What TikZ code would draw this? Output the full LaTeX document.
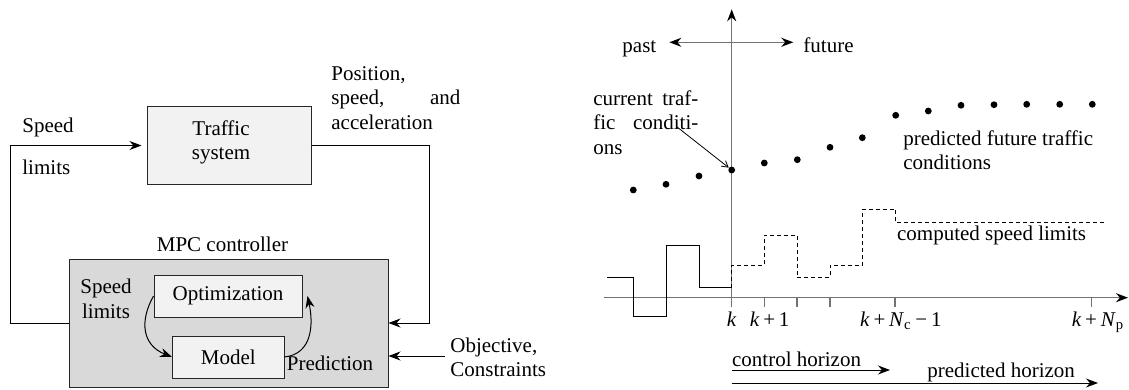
\documentclass[tikz,border=0pt]{standalone}
\usepackage{fontspec}
\setmainfont{Liberation Serif}
\usetikzlibrary{arrows.meta}
\newcommand\kplus{\hspace{0.18em}+\hspace{0.18em}}
\newcommand\kminus{\hspace{0.18em}−\hspace{0.18em}}
\begin{document}
\begin{tikzpicture}[x=0.5pt,y=-0.5pt,
  font=\fontsize{10.5}{12.25}\selectfont,
  arr/.style={-{Stealth[length=6pt,width=4.5pt]}, line width=0.5pt},
  axarr/.style={-{Stealth[length=6pt,width=4.5pt,color=black]}},
  blk/.style={draw=black!85, line width=0.5pt, inner sep=0pt},
  txt/.style={inner sep=0pt},
  axis/.style={draw=black!55, line width=0.75pt},
  dot/.style={circle, fill=black, inner sep=0pt, minimum size=3.4pt},
  past/.style={line width=0.5pt},
  fut/.style={line width=0.45pt, dash pattern=on 2pt off 1.5pt}
]
\useasboundingbox (0,0) rectangle (1129,390);

% ---------------- left: block diagram ----------------
\node[blk, fill=black!5, minimum width=82pt, minimum height=38.5pt] (traffic) at (229,145.5) {};
\node[txt, align=center] (traffictxt) at (221,142.5) {Traffic\\system};
\node[blk, fill=black!15, minimum width=159.5pt, minimum height=64pt] (mpc) at (228.5,323) {};
\node[txt] (mpclab) at (222.5,244) {MPC controller};
\node[blk, fill=black!5, minimum width=74pt, minimum height=21pt] (opt) at (228,296) {Optimization};
\node[blk, fill=black!5, minimum width=55.75pt, minimum height=21pt] (model) at (228.25,357) {Model};
\node[txt, align=center] (sl2) at (106,299) {Speed\\limits};
\node[txt] (pred) at (330,363) {Prediction};
\node[txt, anchor=west, align=left] (obj) at (450,357.5) {Objective,\\Constraints};
\node[txt, anchor=west] (sl1a) at (22,127) {Speed};
\node[txt, anchor=west] (sl1b) at (22,167) {limits};
\node[txt, anchor=west, text width=64.5pt, align=left] (pos) at (331,97.7) {Position,\\\makebox[64.5pt][l]{speed,\hfill and}\\acceleration};

\coordinate (lc) at (10,323);
\draw[arr] (mpc.west) -- (mpc.west -| lc) |- ([xshift=-2.5pt]traffic.west);
\coordinate (rc) at (429,146);
\draw[arr] (traffic.east) -- (traffic.east -| rc) |- (mpc.east);
\coordinate (objs) at (445,356);
\draw[arr] (objs) -- (objs -| mpc.east);
\draw[arr] (opt.west) .. controls +(-14,25) and +(-30,-12) .. (model.west);
\draw[arr] (model.east) .. controls +(28,-3) and +(6,28) .. ([xshift=2.5pt]opt.east);

% ---------------- right: time axis ----------------
\coordinate (vbot) at (731.7,306.7);
\coordinate (vtop) at (731.7,9.3);
\draw[axis, axarr] (vbot) -- (vtop);
\coordinate (pa) at (669.3,42.3);
\coordinate (fu) at (793.3,42.3);
\draw[axis, {Stealth[length=6pt,width=4.5pt,color=black]}-{Stealth[length=6pt,width=4.5pt,color=black]}] (pa) -- (fu);
\node[txt, anchor=base] (pastl) at (639.4,52.5) {past};
\node[txt, anchor=base] (futl) at (828.5,52.5) {future};

\coordinate (hl) at (604,297.7);
\coordinate (hr) at (1128,297.7);
\draw[axis, axarr] (hl) -- (hr);
\foreach \i in {1,2,3,5,11} \draw[axis] (731.7+32.7*\i,297.7) -- ++(0,9);

\node[txt, anchor=base] (lk) at (731.7,326) {\textit{k}};
\node[txt, anchor=base] (lk1) at (769.7,326) {\textit{k}\kplus 1};
\node[txt, anchor=base] (lkc) at (900.8,326) {\textit{k}\kplus\textit{N}\textsubscript{c}\kminus 1};
\node[txt, anchor=base] (lkp) at (1098,326) {\textit{k}\kplus\textit{N}\textsubscript{p}};

\foreach \x/\y [count=\n] in {633.3/190, 666/184.3, 699/176, 731.7/170, 764.3/163, 797.3/159.7, 830/147.3, 862.3/137.7, 895.7/115.3, 928.3/111, 961/105.3, 994/104.7, 1026.7/104.3, 1059.7/104.3, 1092.3/104.3}
  \node[dot] (d\n) at (\x,\y) {};

\node[txt, anchor=west, text width=52.5pt, align=left] (ctc) at (593,122.5) {\makebox[52.5pt][l]{current\hfill traf-}\\\makebox[52.5pt][l]{fic\hfill conditi-}\\ons};
\coordinate (cs) at (676.7,126.7);
\draw[line width=0.4pt, -{Straight Barb[length=3pt,width=3.5pt]}] (cs) -- (d4);
\node[txt, anchor=west, align=left] (pftc) at (903,150) {predicted future traffic\\conditions};
\node[txt, anchor=west] (csl) at (896.7,235) {computed speed limits};

\draw[past] (607.3,277.7) -- (633.3,277.7) -- (633.3,316.7) -- (666,316.7) -- (666,245) -- (699,245) -- (699,287.7) -- (731.7,287.7);
\draw[fut] (731.7,287.7) -- (731.7,265) -- (764.3,265) -- (764.3,235) -- (797.3,235) -- (797.3,277.7) -- (830,277.7) -- (830,265) -- (862.3,265) -- (862.3,209) -- (895.7,209) -- (895.7,222.3) -- (1106.7,222.3);

\coordinate (ch0) at (731.7,370);
\coordinate (ch1) at (890,370);
\draw[arr] (ch0) -- (ch1);
\node[txt, anchor=base west] (chl) at (731.7,366) {control horizon};
\coordinate (ph0) at (731.7,383);
\coordinate (ph1) at (1098,383);
\draw[arr] (ph0) -- (ph1);
\node[txt, anchor=base west] (phl) at (927,377) {predicted horizon};
\end{tikzpicture}
\end{document}
